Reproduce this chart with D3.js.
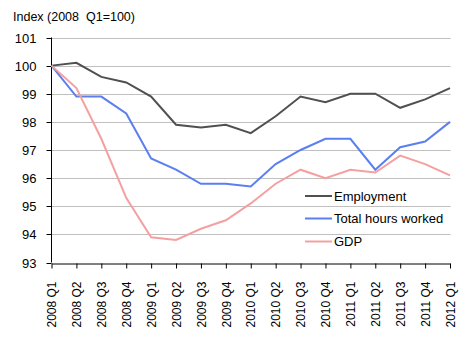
<!DOCTYPE html>
<html><head><meta charset="utf-8">
<script src="https://cdn.jsdelivr.net/npm/d3@7"></script>
<style>body{margin:0;background:#fff}</style>
</head><body>
<svg id="c" width="472" height="341"></svg>
<script>
const categories = ["2008 Q1","2008 Q2","2008 Q3","2008 Q4","2009 Q1","2009 Q2","2009 Q3","2009 Q4","2010 Q1","2010 Q2","2010 Q3","2010 Q4","2011 Q1","2011 Q2","2011 Q3","2011 Q4","2012 Q1"];
const employment = [100,100.1,99.6,99.4,98.9,97.9,97.8,97.9,97.6,98.2,98.9,98.7,99.0,99.0,98.5,98.8,99.2];
const hoursWorked = [100,98.9,98.9,98.3,96.7,96.3,95.8,95.8,95.7,96.5,97.0,97.4,97.4,96.3,97.1,97.3,98.0];
const gdp = [100,99.2,97.4,95.3,93.9,93.8,94.2,94.5,95.1,95.8,96.3,96.0,96.3,96.2,96.8,96.5,96.1];
const yTicks = [93,94,95,96,97,98,99,100,101];
const seriesNames = ["Employment","Total hours worked","GDP"];
const seriesColors = ["#505050","#5b7ff0","#f4a0a0"];
const yTitle = "Index (2008  Q1=100)";

const svg = d3.select("#c");
const font = "Arial, 'Liberation Sans', sans-serif";
const x = d3.scalePoint().domain(categories).range([51.5, 450]);
const y = d3.scaleLinear().domain([93,101]).range([262.5, 37.5]);

// gridlines
svg.append("g").selectAll("line").data(yTicks.filter(d=>d>93)).join("line")
  .attr("x1",52).attr("x2",450.5).attr("y1",d=>Math.round(y(d))+0.5).attr("y2",d=>Math.round(y(d))+0.5)
  .attr("stroke","#c0c0c0").attr("stroke-width",1);

// y axis
const ya = svg.append("g").attr("transform","translate(51.5,0)")
  .call(d3.axisLeft(y).tickValues(yTicks).tickSize(5).tickPadding(10).tickFormat(d3.format("d")));
ya.select(".domain").attr("stroke","#000").attr("d","M0,"+y(101)+"V"+y(93));
ya.selectAll(".tick line").attr("stroke","#000");
ya.selectAll(".tick text").attr("font-family",font).attr("font-size",13).attr("fill","#000");
ya.selectAll(".tick").attr("transform",d=>"translate(0,"+(Math.round(y(d))+0.5)+")");

// x axis
const xa = svg.append("g").attr("transform","translate(0,"+(Math.round(y(93))+0.5)+")")
  .call(d3.axisBottom(x).tickSize(5).tickSizeOuter(0));
xa.select(".domain").attr("stroke","#000");
xa.selectAll(".tick line").attr("stroke","#000");
xa.selectAll(".tick text").attr("font-family",font).attr("font-size",12).attr("fill","#000")
  .attr("transform","rotate(-90)").attr("text-anchor","end").attr("x",-18).attr("y",0).attr("dy","0.35em");

// lines
const line = d3.line().x((d,i)=>x(categories[i])).y(d=>y(d));
[employment, hoursWorked, gdp].forEach((s,k)=>{
  svg.append("path").datum(s).attr("d",line).attr("fill","none")
    .attr("stroke",seriesColors[k]).attr("stroke-width",2).attr("stroke-linejoin","miter");
});

// title
svg.append("text").attr("x",13).attr("y",21).attr("font-family",font).attr("font-size",12.5)
  .attr("fill","#000").attr("xml:space","preserve").style("white-space","pre").text(yTitle);

// legend
const legY = [196,218.5,241.5];
const lg = svg.append("g");
seriesNames.forEach((n,k)=>{
  lg.append("line").attr("x1",305).attr("x2",332).attr("y1",legY[k]).attr("y2",legY[k])
    .attr("stroke",seriesColors[k]).attr("stroke-width",2);
  lg.append("text").attr("x",334).attr("y",legY[k]).attr("dy","0.35em").attr("font-family",font)
    .attr("font-size",13).attr("fill","#000").text(n);
});
</script>
</body></html>
